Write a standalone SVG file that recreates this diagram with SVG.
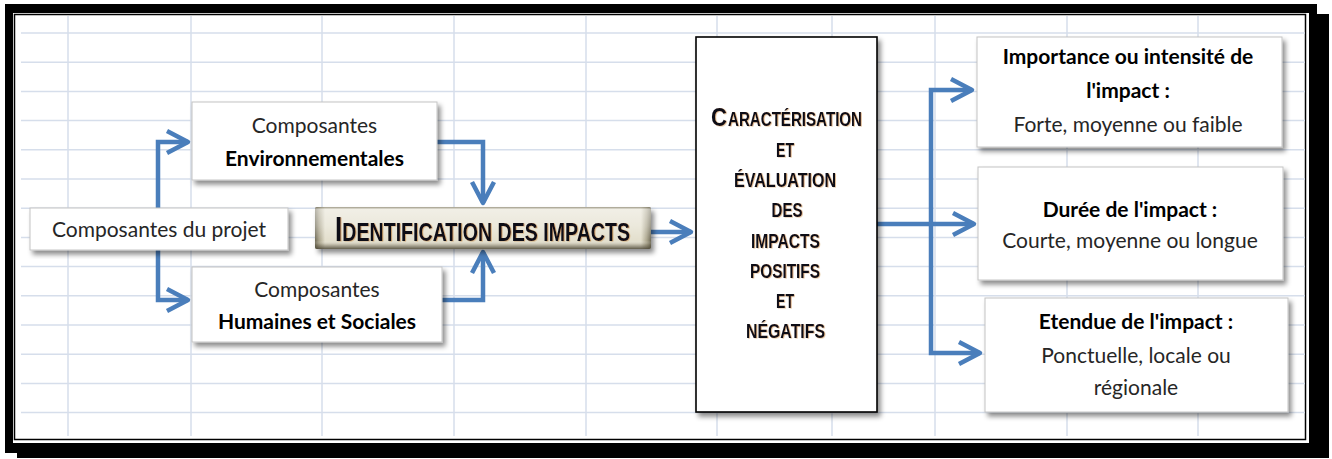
<svg xmlns="http://www.w3.org/2000/svg" width="1332" height="459" viewBox="0 0 1332 459">
  <style>
    .grid line { stroke: #d6deeb; stroke-width: 1.5; }
    .box { fill: #ffffff; stroke: #c4c4c4; stroke-width: 1; filter: url(#shadow); }
    .big { fill: #ffffff; stroke: #000000; stroke-width: 1.6; filter: url(#shadow); }
    .t { font-family: Lato, "Liberation Sans", sans-serif; font-size: 21px; fill: #262626; text-anchor: middle; }
    .b { font-weight: bold; fill: #000000; }
    .caps { font-family: "Liberation Sans Narrow", "Liberation Sans", sans-serif; font-weight: bold; font-size: 21px; fill: #0c0c18; text-anchor: middle; filter: url(#fringe); }
    .caps.title { font-size: 26px; }
    .caps.start { text-anchor: start; }
    .caps .lead { font-size: 26px; }
    .caps.title .lead { font-size: 35px; }
    .conn path { fill: none; stroke: #4a7ebb; stroke-width: 4.5; marker-end: url(#chevron); }
  </style>
  <defs>
    <filter id="shadow" x="-10%" y="-10%" width="125%" height="130%">
      <feDropShadow dx="3" dy="4" stdDeviation="2.5" flood-color="#000" flood-opacity="0.45"/>
    </filter>
    <filter id="fringe" x="-5%" y="-20%" width="110%" height="140%">
      <feDropShadow dx="1" dy="0.5" stdDeviation="0.3" flood-color="#b86a1e" flood-opacity="0.45"/>
    </filter>
    <marker id="chevron" markerUnits="userSpaceOnUse" viewBox="-4 -4 30 30" markerWidth="30" markerHeight="30" refX="21" refY="11" orient="auto">
      <path d="M0,0 L21,11 L0,22" fill="none" stroke="#4a7ebb" stroke-width="4.5" stroke-linejoin="round"/>
    </marker>
    <linearGradient id="bevelH" x1="0" y1="0" x2="1" y2="0">
      <stop offset="0" stop-color="#6f6a56"/>
      <stop offset="0.012" stop-color="#a9a38b"/>
      <stop offset="0.03" stop-color="#e3dfcd"/>
      <stop offset="0.97" stop-color="#e3dfcd"/>
      <stop offset="0.988" stop-color="#a9a38b"/>
      <stop offset="1" stop-color="#6f6a56"/>
    </linearGradient>
    <linearGradient id="bevelV" x1="0" y1="0" x2="0" y2="1">
      <stop offset="0" stop-color="#6f6a56" stop-opacity="0.6"/>
      <stop offset="0.06" stop-color="#ffffff" stop-opacity="0.5"/>
      <stop offset="0.45" stop-color="#ffffff" stop-opacity="0.3"/>
      <stop offset="0.8" stop-color="#ffffff" stop-opacity="0"/>
      <stop offset="0.9" stop-color="#5a5441" stop-opacity="0.3"/>
      <stop offset="1" stop-color="#4a4535" stop-opacity="0.85"/>
    </linearGradient>
  </defs>

  <!-- frame with its black drop shadow and double border -->
  <rect x="17" y="14" width="1312" height="444" fill="#000"/>
  <rect x="5" y="4" width="1312" height="449" fill="#000"/>
  <rect x="13" y="13" width="1296" height="430" fill="#fff"/>
  <rect x="14.5" y="14.5" width="1291" height="425" fill="#fff" stroke="#000" stroke-width="1.5"/>

  <!-- worksheet grid -->
  <g class="grid">
    <line x1="21" y1="33" x2="1305" y2="33"/>
    <line x1="21" y1="62.2" x2="1305" y2="62.2"/>
    <line x1="21" y1="91.4" x2="1305" y2="91.4"/>
    <line x1="21" y1="120.6" x2="1305" y2="120.6"/>
    <line x1="21" y1="149.8" x2="1305" y2="149.8"/>
    <line x1="21" y1="179" x2="1305" y2="179"/>
    <line x1="21" y1="208.2" x2="1305" y2="208.2"/>
    <line x1="21" y1="237.4" x2="1305" y2="237.4"/>
    <line x1="21" y1="266.6" x2="1305" y2="266.6"/>
    <line x1="21" y1="295.8" x2="1305" y2="295.8"/>
    <line x1="21" y1="325" x2="1305" y2="325"/>
    <line x1="21" y1="354.2" x2="1305" y2="354.2"/>
    <line x1="21" y1="383.4" x2="1305" y2="383.4"/>
    <line x1="21" y1="412.6" x2="1305" y2="412.6"/>
    <line x1="68" y1="16" x2="68" y2="436"/>
    <line x1="191" y1="16" x2="191" y2="436"/>
    <line x1="322" y1="16" x2="322" y2="436"/>
    <line x1="454" y1="16" x2="454" y2="436"/>
    <line x1="586" y1="16" x2="586" y2="436"/>
    <line x1="717" y1="16" x2="717" y2="436"/>
    <line x1="832" y1="16" x2="832" y2="436"/>
    <line x1="935" y1="16" x2="935" y2="436"/>
    <line x1="1067" y1="16" x2="1067" y2="436"/>
    <line x1="1198" y1="16" x2="1198" y2="436"/>
  </g>

  <!-- connectors -->
  <g id="connectors" class="conn">
    <path d="M158,208 V142 H188"/>
    <path d="M158,250 V300 H188"/>
    <path d="M437,142 H483 V203"/>
    <path d="M442,300 H483 V252"/>
    <path d="M651,232 H691"/>
    <path d="M877,224 H974"/>
    <path d="M931,224 V90 H972"/>
    <path d="M931,224 V353 H980"/>
  </g>

  <g id="n-projet">
    <rect class="box" x="30" y="208" width="258" height="42"/>
    <text class="t" x="159" y="237">Composantes du projet</text>
  </g>

  <g id="n-environnement">
    <rect class="box" x="192" y="102" width="245" height="78"/>
    <text class="t" x="314.5" y="133">Composantes</text>
    <text class="t b" x="314.5" y="166">Environnementales</text>
  </g>

  <g id="n-humain">
    <rect class="box" x="192" y="267" width="250" height="75"/>
    <text class="t" x="317" y="297">Composantes</text>
    <text class="t b" x="317" y="329">Humaines et Sociales</text>
  </g>

  <g id="n-identification">
    <g filter="url(#shadow)">
      <rect x="315" y="207" width="336" height="42" rx="2" fill="url(#bevelH)"/>
      <rect x="315" y="207" width="336" height="42" rx="2" fill="url(#bevelV)"/>
    </g>
    <text class="caps title" x="482.5" y="241" textLength="295" lengthAdjust="spacingAndGlyphs"><tspan class="lead">I</tspan>DENTIFICATION DES IMPACTS</text>
  </g>

  <g id="n-caracterisation">
    <rect class="big" x="696" y="37" width="181" height="375"/>
    <text class="caps start" x="711" y="126"><tspan class="lead" textLength="16" lengthAdjust="spacingAndGlyphs">C</tspan><tspan x="728" textLength="134" lengthAdjust="spacingAndGlyphs">ARACTÉRISATION</tspan></text>
    <text class="caps" x="785" y="157" textLength="18" lengthAdjust="spacingAndGlyphs">ET</text>
    <text class="caps" x="785" y="187" textLength="102" lengthAdjust="spacingAndGlyphs">ÉVALUATION</text>
    <text class="caps" x="787" y="217" textLength="31" lengthAdjust="spacingAndGlyphs">DES</text>
    <text class="caps" x="785.5" y="248" textLength="69" lengthAdjust="spacingAndGlyphs">IMPACTS</text>
    <text class="caps" x="785" y="278" textLength="70" lengthAdjust="spacingAndGlyphs">POSITIFS</text>
    <text class="caps" x="785" y="308" textLength="18" lengthAdjust="spacingAndGlyphs">ET</text>
    <text class="caps" x="785.5" y="338" textLength="79" lengthAdjust="spacingAndGlyphs">NÉGATIFS</text>
  </g>

  <g id="n-intensite">
    <rect class="box" x="977" y="37" width="305" height="110"/>
    <text class="t b" x="1128" y="64">Importance ou intensité de</text>
    <text class="t b" x="1128" y="98">l'impact :</text>
    <text class="t" x="1128" y="132">Forte, moyenne ou faible</text>
  </g>

  <g id="n-duree">
    <rect class="box" x="978" y="167" width="305" height="113"/>
    <text class="t b" x="1130" y="217">Durée de l'impact :</text>
    <text class="t" x="1130" y="248">Courte, moyenne  ou longue</text>
  </g>

  <g id="n-etendue">
    <rect class="box" x="985" y="298" width="303" height="114"/>
    <text class="t b" x="1136" y="329">Etendue de l'impact :</text>
    <text class="t" x="1136" y="363">Ponctuelle, locale ou</text>
    <text class="t" x="1136" y="395">régionale</text>
  </g>
</svg>
